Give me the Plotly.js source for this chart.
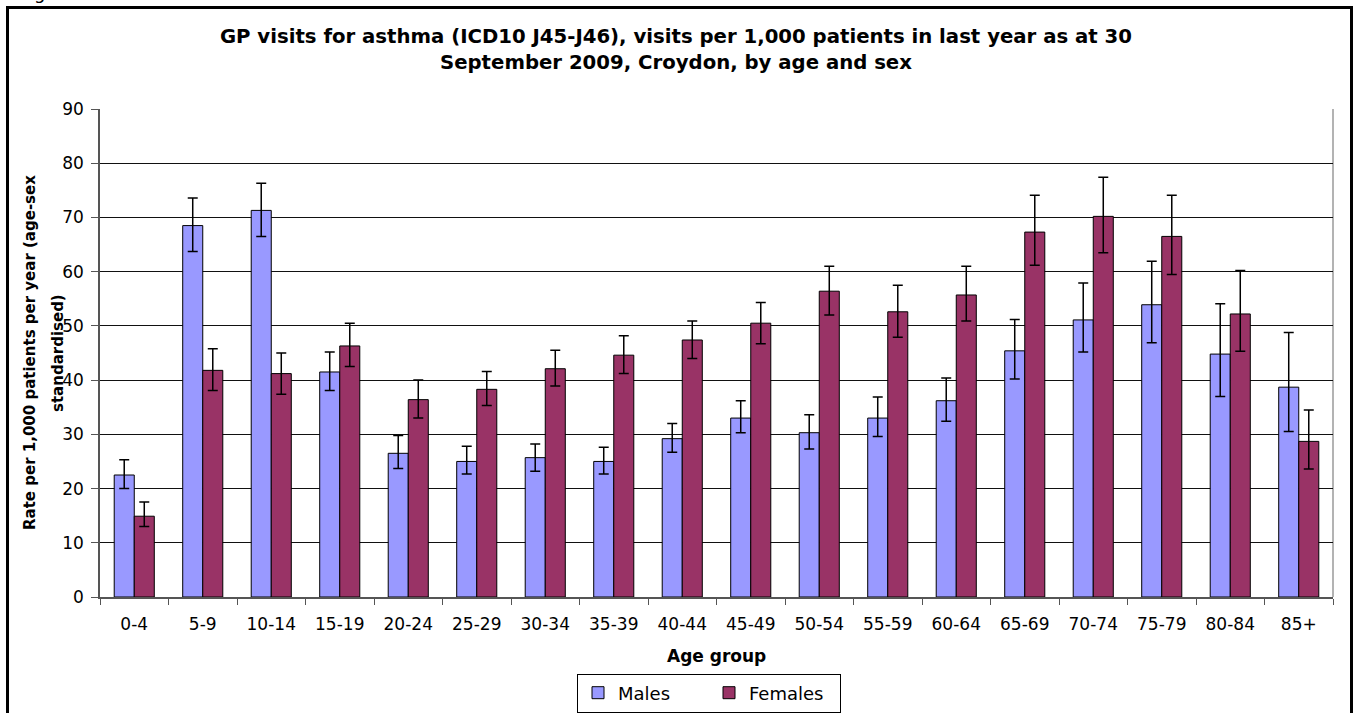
<!DOCTYPE html>
<html>
<head>
<meta charset="utf-8">
<script src="https://cdn.plot.ly/plotly-3.0.1.min.js"></script>
<style>
  html, body { margin: 0; padding: 0; background: #fff; }
  #chart { width: 1356px; height: 713px; }
</style>
</head>
<body>
<div id="chart"></div>
<script>
const ageGroups = ['0-4','5-9','10-14','15-19','20-24','25-29','30-34','35-39','40-44','45-49','50-54','55-59','60-64','65-69','70-74','75-79','80-84','85+'];

const males     = [22.5,68.5,71.3,41.5,26.5,25.0,25.7,25.0,29.2,33.0,30.3,33.0,36.2,45.4,51.1,53.9,44.8,38.7];
const malesHi   = [25.3,73.6,76.3,45.2,29.8,27.8,28.2,27.6,32.0,36.2,33.6,36.9,40.4,51.2,57.9,61.9,54.1,48.8];
const malesLo   = [20.0,63.7,66.5,38.1,23.7,22.7,23.2,22.7,26.7,30.3,27.3,29.6,32.4,40.2,45.2,46.9,37.0,30.5];

const females   = [14.9,41.8,41.2,46.3,36.4,38.3,42.1,44.6,47.4,50.5,56.4,52.6,55.7,67.3,70.2,66.5,52.2,28.7];
const femalesHi = [17.5,45.8,45.0,50.5,40.0,41.6,45.5,48.2,50.9,54.3,61.0,57.5,61.0,74.1,77.4,74.1,60.2,34.5];
const femalesLo = [13.0,38.1,37.4,42.5,33.0,35.3,38.9,41.2,44.0,46.7,52.0,47.9,50.9,61.2,63.5,59.5,45.3,23.6];

const seriesNames = ['Males', 'Females'];
const titleText = 'GP visits for asthma (ICD10 J45-J46), visits per 1,000 patients in last year as at 30<br>September 2009, Croydon, by age and sex';
const yTitleLine1 = 'Rate per 1,000 patients per year (age-sex';
const yTitleLine2 = 'standardised)';
const xTitleText = 'Age group';
const captionFragment = 'Figure';

const FONT = 'DejaVu Sans, Liberation Sans, Arial, sans-serif';

function errBars(vals, hi, lo) {
  return {
    type: 'data',
    symmetric: false,
    array: hi.map((h, i) => +(h - vals[i]).toFixed(2)),
    arrayminus: lo.map((l, i) => +(vals[i] - l).toFixed(2)),
    color: '#000000',
    thickness: 1.5,
    width: 5,
    visible: true
  };
}

const traces = [
  {
    type: 'bar', name: seriesNames[0], x: ageGroups, y: males,
    marker: { color: '#9999FF', line: { color: '#000000', width: 1 } },
    error_y: errBars(males, malesHi, malesLo),
    hoverinfo: 'x+y+name'
  },
  {
    type: 'bar', name: seriesNames[1], x: ageGroups, y: females,
    marker: { color: '#993366', line: { color: '#000000', width: 1 } },
    error_y: errBars(females, femalesHi, femalesLo),
    hoverinfo: 'x+y+name'
  }
];

const L = 100, R = 23, T = 109, B = 116;
const W = 1356, H = 713;
const pw = W - L - R, ph = H - T - B;
const px = v => (v - L) / pw;          // pixel x -> paper x
const py = v => (H - B - v) / ph;      // pixel y -> paper y

const layout = {
  width: W, height: H,
  margin: { l: L, r: R, t: T, b: B, pad: 0, autoexpand: false },
  paper_bgcolor: '#ffffff',
  plot_bgcolor: '#ffffff',
  font: { family: FONT, size: 17, color: '#000000' },
  title: {
    text: titleText,
    font: { family: FONT, size: 19.7, color: '#000000', weight: 'bold' },
    xref: 'container', x: 0.4985, xanchor: 'center',
    yref: 'container', y: 1 - 43 / H, yanchor: 'middle'
  },
  barmode: 'group',
  bargap: 0.415,
  bargroupgap: 0,
  xaxis: {
    type: 'category',
    automargin: false,
    tickson: 'boundaries',
    ticks: 'outside', ticklen: 6, tickwidth: 1, tickcolor: '#555555',
    ticklabelstandoff: 11,
    showline: true, linecolor: '#555555', linewidth: 1.5,
    showgrid: false,
    tickfont: { family: FONT, size: 17, color: '#000000' },
    fixedrange: true
  },
  yaxis: {
    automargin: false,
    range: [0, 90],
    tick0: 0, dtick: 10,
    ticks: 'outside', ticklen: 7, tickwidth: 1, tickcolor: '#555555',
    ticklabelstandoff: 4,
    showline: true, linecolor: '#555555', linewidth: 1.5,
    showgrid: true, gridcolor: '#111111', gridwidth: 1,
    zeroline: false,
    tickfont: { family: FONT, size: 17, color: '#000000' },
    fixedrange: true
  },
  showlegend: true,
  legend: {
    orientation: 'h',
    xref: 'paper', x: px(709), xanchor: 'center',
    yref: 'container', y: 1 - 693 / H, yanchor: 'middle',
    bordercolor: '#000000', borderwidth: 1,
    bgcolor: '#ffffff',
    font: { family: FONT, size: 18, color: '#000000' },
    entrywidth: 86, entrywidthmode: 'pixels',
    itemclick: false, itemdoubleclick: false
  },
  annotations: [
    {
      text: xTitleText, showarrow: false,
      xref: 'paper', yref: 'paper', x: 0.5, y: py(656),
      xanchor: 'center', yanchor: 'middle',
      font: { family: FONT, size: 17, color: '#000000', weight: 'bold' }
    },
    {
      text: yTitleLine1, textangle: -90, showarrow: false,
      xref: 'paper', yref: 'paper', x: px(30), y: py(353),
      xanchor: 'center', yanchor: 'middle',
      font: { family: FONT, size: 15, color: '#000000', weight: 'bold' }
    },
    {
      text: yTitleLine2, textangle: -90, showarrow: false,
      xref: 'paper', yref: 'paper', x: px(58), y: py(353),
      xanchor: 'center', yanchor: 'middle',
      font: { family: FONT, size: 15, color: '#000000', weight: 'bold' }
    },
    {
      text: captionFragment, showarrow: false,
      xref: 'paper', yref: 'paper', x: px(17.5), y: py(5),
      xanchor: 'left', yanchor: 'bottom',
      font: { family: FONT, size: 18, color: '#000000' }
    }
  ],
  shapes: [
    {
      type: 'rect', xref: 'paper', yref: 'paper',
      x0: px(7.5), x1: px(1351.5), y0: py(740), y1: py(7.5),
      line: { color: '#000000', width: 3 }, fillcolor: 'rgba(0,0,0,0)', layer: 'above'
    },
    {
      type: 'line', xref: 'paper', yref: 'paper',
      x0: 1, x1: 1, y0: 0, y1: 1,
      line: { color: '#9a9a9a', width: 1.5 }, layer: 'below'
    }
  ]
};

Plotly.newPlot('chart', traces, layout, { displayModeBar: false, staticPlot: false, responsive: false });
</script>
</body>
</html>
